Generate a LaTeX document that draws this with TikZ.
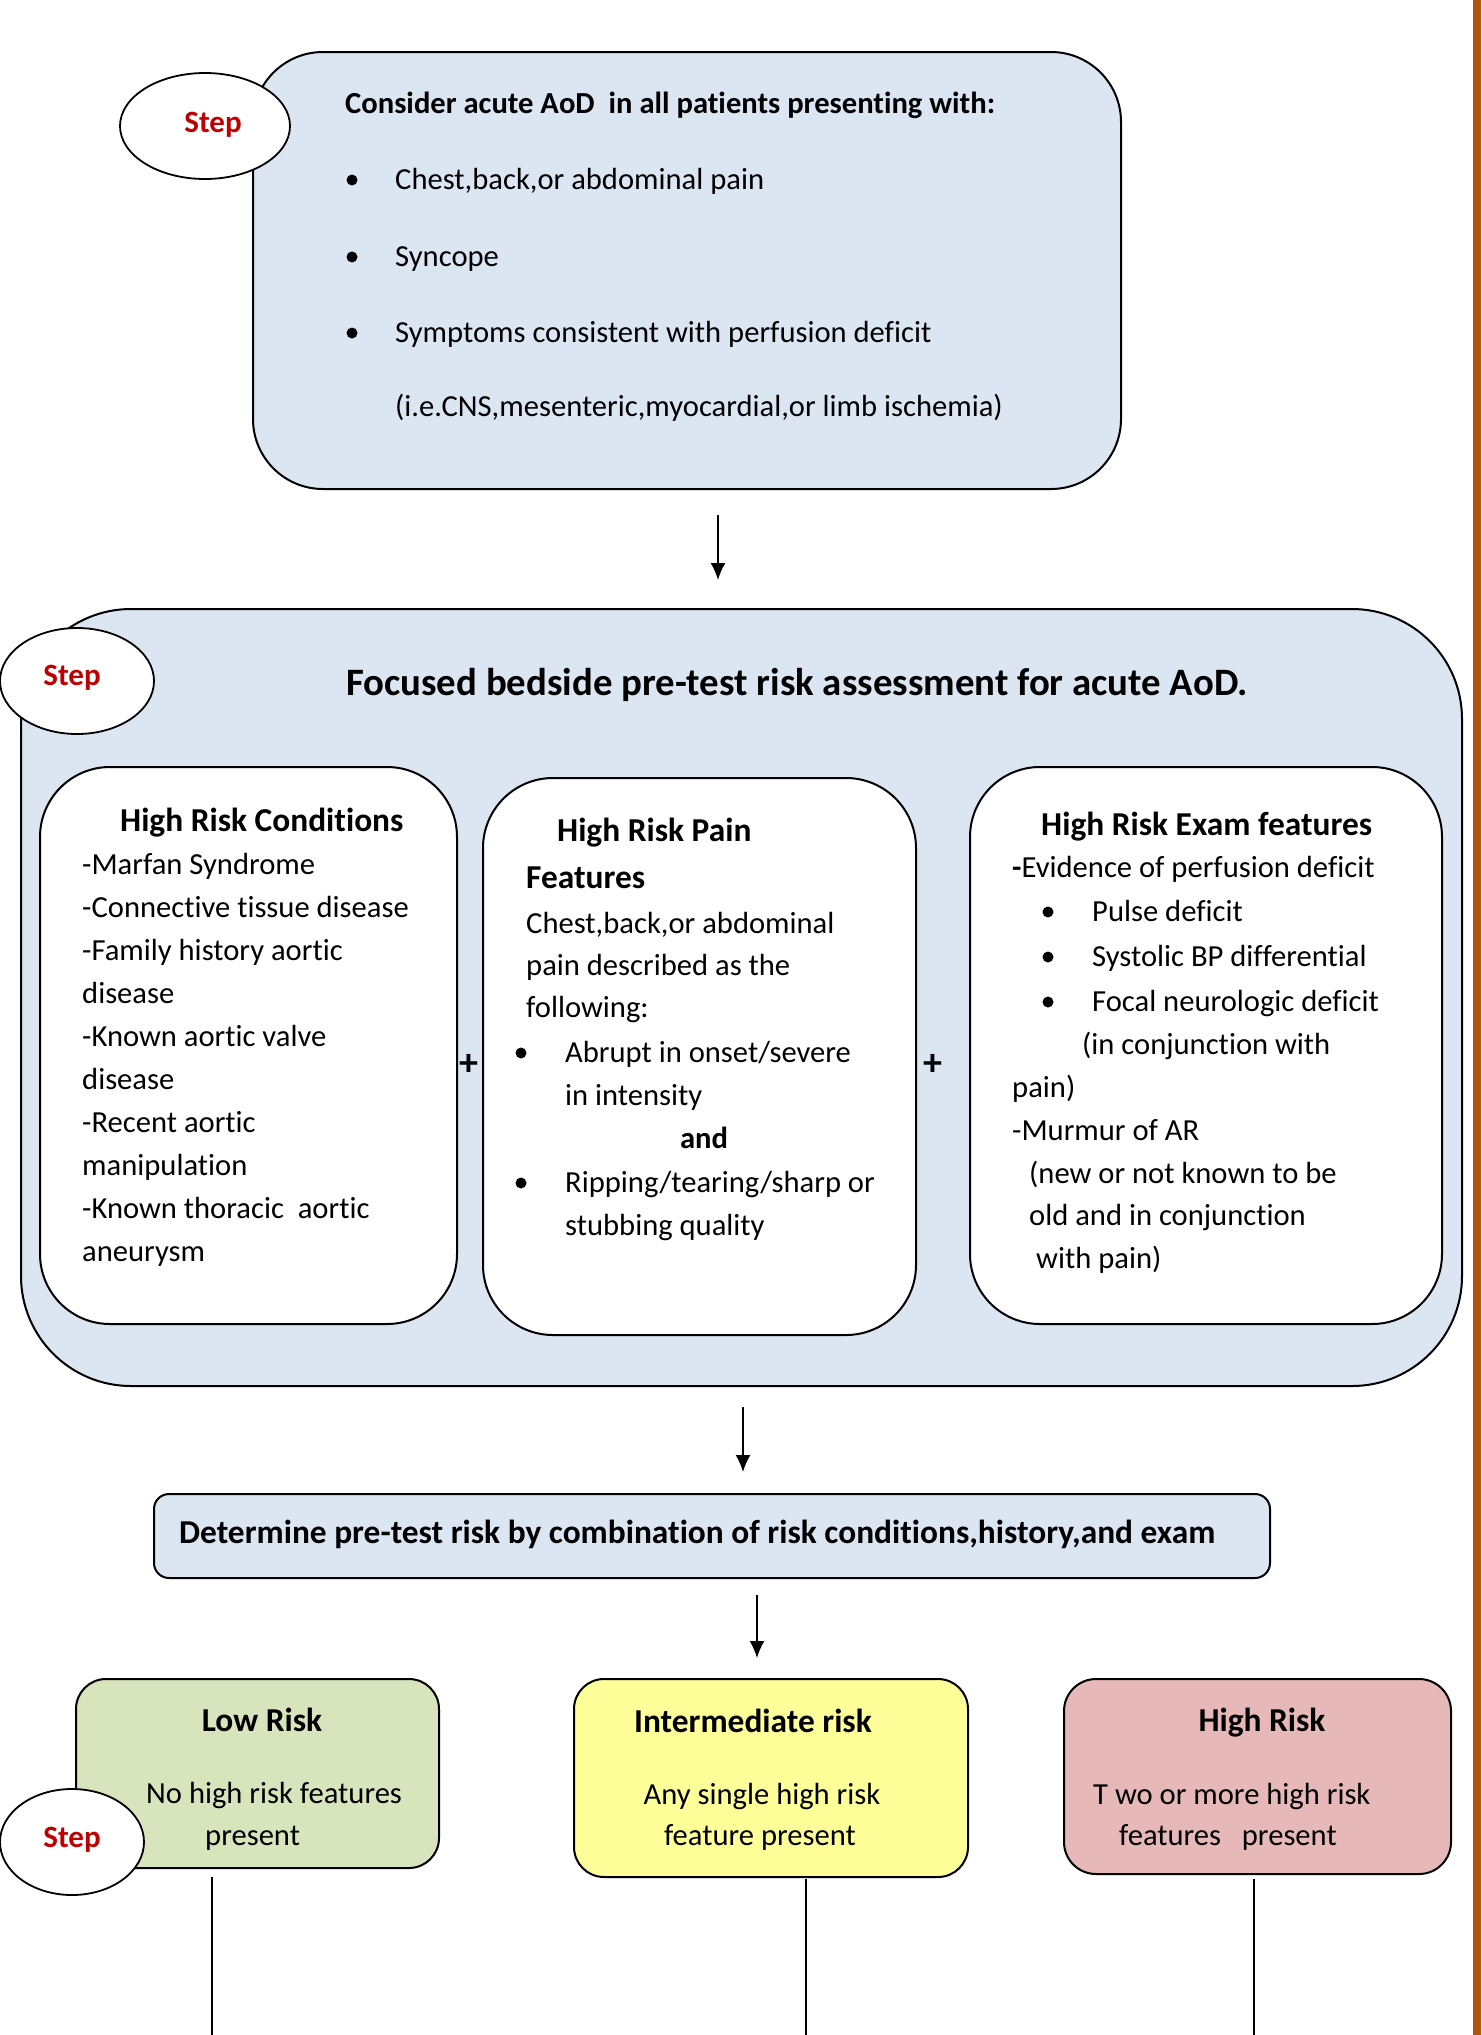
\documentclass[tikz,border=0pt]{standalone}
\usepackage{fontspec}
\setmainfont{Carlito}[Ligatures=NoCommon]
\usetikzlibrary{arrows.meta,shapes.geometric}
\definecolor{boxblue}{HTML}{DCE6F2}
\definecolor{boxgreen}{HTML}{D8E4BC}
\definecolor{boxyellow}{HTML}{FFFF99}
\definecolor{boxpink}{HTML}{E6B9B8}
\definecolor{stepred}{HTML}{C00000}
\definecolor{barbrown}{RGB}{178,84,14}
\newcommand\bodyf{\fontsize{30.6}{36}\selectfont}
\newcommand\headf{\fontsize{33.4}{40}\selectfont\bfseries}
\newcommand\titlef{\fontsize{38.8}{46}\selectfont\bfseries}
\newcommand\stepf{\fontsize{31}{36}\selectfont\bfseries}
\begin{document}
\begin{tikzpicture}[x=1pt,y=-1pt,
  box/.style={draw=black, line width=2pt, rectangle, inner sep=0pt},
  stepnode/.style={draw=black, line width=1.8pt, fill=white, ellipse, inner sep=0pt},
  steptext/.style={inner sep=0pt, font=\stepf, text=stepred},
  tx/.style={anchor=base west, inner sep=0pt, font=\bodyf},
  bx/.style={anchor=base west, inner sep=0pt, font=\bodyf\bfseries},
  hx/.style={anchor=base west, inner sep=0pt, font=\headf},
  cx/.style={anchor=base, inner sep=0pt, font=\bodyf},
  dot/.style={circle, fill=black, inner sep=0pt, minimum size=11pt},
  arr/.style={line width=1.8pt, -{Latex[length=17pt,width=15pt]}},
  plain/.style={line width=1.5pt}
]
\useasboundingbox (0,0) rectangle (1481,2035);
\fill[barbrown] (1473,0) rectangle (1481,2035);

% boxes
\node[box, fill=boxblue, rounded corners=70pt, minimum width=868pt, minimum height=437pt] (b1) at (687,270.5) {};
\node[box, fill=boxblue, rounded corners=110pt, minimum width=1441pt, minimum height=777pt] (b2) at (741.5,997.5) {};
\node[box, fill=white, rounded corners=70pt, minimum width=417pt, minimum height=557pt] (sA) at (248.5,1045.5) {};
\node[box, fill=white, rounded corners=70pt, minimum width=433pt, minimum height=557pt] (sB) at (699.5,1056.5) {};
\node[box, fill=white, rounded corners=70pt, minimum width=472pt, minimum height=557pt] (sC) at (1206,1045.5) {};
\node[box, fill=boxblue, rounded corners=15pt, minimum width=1116pt, minimum height=84pt] (b3) at (712,1536) {};
\node[box, fill=boxgreen, rounded corners=30pt, minimum width=363pt, minimum height=189pt] (low) at (257.5,1773.5) {};
\node[box, fill=boxyellow, rounded corners=30pt, minimum width=394pt, minimum height=198pt] (mid) at (771,1778) {};
\node[box, fill=boxpink, rounded corners=32pt, minimum width=387pt, minimum height=195pt] (high) at (1257.5,1776.5) {};

% step ellipses
\node[stepnode, minimum width=170pt, minimum height=106pt] (st1) at (205,126) {};
\node[steptext] (st1t) at (213,125) {Step};
\node[stepnode, minimum width=154pt, minimum height=106pt] (st2) at (77,681) {};
\node[steptext] (st2t) at (72,678) {Step};
\node[stepnode, minimum width=144pt, minimum height=106pt] (st3) at (72,1842) {};
\node[steptext] (st3t) at (72,1840) {Step};

% connectors
\coordinate (ax1) at (718,0);
\coordinate (ax2) at (743,0);
\coordinate (ax3) at (757,0);
\draw[arr, shorten <=25pt, shorten >=28pt] (b1.south -| ax1) -- (b2.north -| ax1);
\draw[arr, shorten <=20pt, shorten >=21pt] (b2.south -| ax2) -- (b3.north -| ax2);
\draw[arr, shorten <=16pt, shorten >=20pt] (b3.south -| ax3) -- (mid.north -| ax3);
\coordinate (e1) at (212,2040);
\coordinate (e2) at (806,2040);
\coordinate (e3) at (1254,2040);
\draw[plain, shorten <=8pt] (low.south -| e1) -- (e1);
\draw[plain, shorten <=1pt] (mid.south -| e2) -- (e2);
\draw[plain, shorten <=4pt] (high.south -| e3) -- (e3);

% box 1 text
\node[bx] (c0) at (345,113) {Consider acute AoD\ \ in all patients presenting with:};
\node[dot] (c1b) at (352,180) {};
\node[tx] (c1) at (395,189) {Chest,back,or abdominal pain};
\node[dot] (c2b) at (352,257) {};
\node[tx] (c2) at (395,266) {Syncope};
\node[dot] (c3b) at (352,333) {};
\node[tx] (c3) at (395,342) {Symptoms consistent with perfusion deficit};
\node[tx] (c4) at (395,416) {(i.e.CNS,mesenteric,myocardial,or limb ischemia)};

% box 2 title
\node[anchor=base west, inner sep=0pt, font=\titlef] (ft) at (346,695) {Focused bedside pre-test risk assessment for acute AoD.};

% sub box A
\node[hx] (a0) at (120,831) {High Risk Conditions};
\node[tx] (a1) at (82,874) {-Marfan Syndrome};
\node[tx] (a2) at (82,917) {-Connective tissue disease};
\node[tx] (a3) at (82,960) {-Family history aortic};
\node[tx] (a4) at (82,1003) {disease};
\node[tx] (a5) at (82,1046) {-Known aortic valve};
\node[tx] (a6) at (82,1089) {disease};
\node[tx] (a7) at (82,1132) {-Recent aortic};
\node[tx] (a8) at (82,1175) {manipulation};
\node[tx] (a9) at (82,1218) {-Known thoracic\ \ aortic};
\node[tx] (a10) at (82,1261) {aneurysm};

% sub box B
\node[hx] (p0) at (557,841) {High Risk Pain};
\node[hx] (p1) at (526,888) {Features};
\node[tx] (p2) at (526,933) {Chest,back,or abdominal};
\node[tx] (p3) at (526,975) {pain described as the};
\node[tx] (p4) at (526,1017) {following:};
\node[dot] (p5b) at (521,1053) {};
\node[tx] (p5) at (565,1062) {Abrupt in onset/severe};
\node[tx] (p6) at (565,1105) {in intensity};
\node[anchor=base, inner sep=0pt, font=\bodyf\bfseries] (p7) at (704,1148) {and};
\node[dot] (p8b) at (521,1183) {};
\node[tx] (p8) at (565,1192) {Ripping/tearing/sharp or};
\node[tx] (p9) at (565,1235) {stubbing quality};

% sub box C
\node[hx] (x0) at (1041,835) {High Risk Exam features};
\node[tx] (x1) at (1012,877) {\textbf{-}Evidence of perfusion deficit};
\node[dot] (x2b) at (1048,912) {};
\node[tx] (x2) at (1092,921) {Pulse deficit};
\node[dot] (x3b) at (1048,957) {};
\node[tx] (x3) at (1092,966) {Systolic BP differential};
\node[dot] (x4b) at (1048,1002) {};
\node[tx] (x4) at (1092,1011) {Focal neurologic deficit};
\node[tx] (x5) at (1082,1054) {(in conjunction with};
\node[tx] (x6) at (1012,1097) {pain)};
\node[tx] (x7) at (1012,1140) {-Murmur of AR};
\node[tx] (x8) at (1029,1183) {(new or not known to be};
\node[tx] (x9) at (1029,1225) {old and in conjunction};
\node[tx] (x10) at (1036,1268) {with pain)};

% plus signs
\node[inner sep=0pt, font=\fontsize{38}{44}\selectfont\bfseries] (plus1) at (469,1065) {+};
\node[inner sep=0pt, font=\fontsize{38}{44}\selectfont\bfseries] (plus2) at (933,1065) {+};

% box 3
\node[anchor=base west, inner sep=0pt, font=\headf] (d0) at (179,1543) {Determine pre-test risk by combination of risk conditions,history,and exam};

% risk boxes
\node[anchor=base, inner sep=0pt, font=\headf] (l0) at (262,1731) {Low Risk};
\node[tx] (l1) at (146,1803) {No high risk features};
\node[tx] (l2) at (205,1845) {present};
\node[anchor=base, inner sep=0pt, font=\headf] (m0) at (753,1732) {Intermediate risk};
\node[cx] (m1) at (762,1804) {Any single high risk};
\node[cx] (m2) at (760,1845) {feature present};
\node[anchor=base, inner sep=0pt, font=\headf] (h0) at (1262,1731) {High Risk};
\node[tx] (h1) at (1093,1804) {T wo or more high risk};
\node[tx] (h2) at (1119,1845) {features\ \ \ present};
\end{tikzpicture}
\end{document}
